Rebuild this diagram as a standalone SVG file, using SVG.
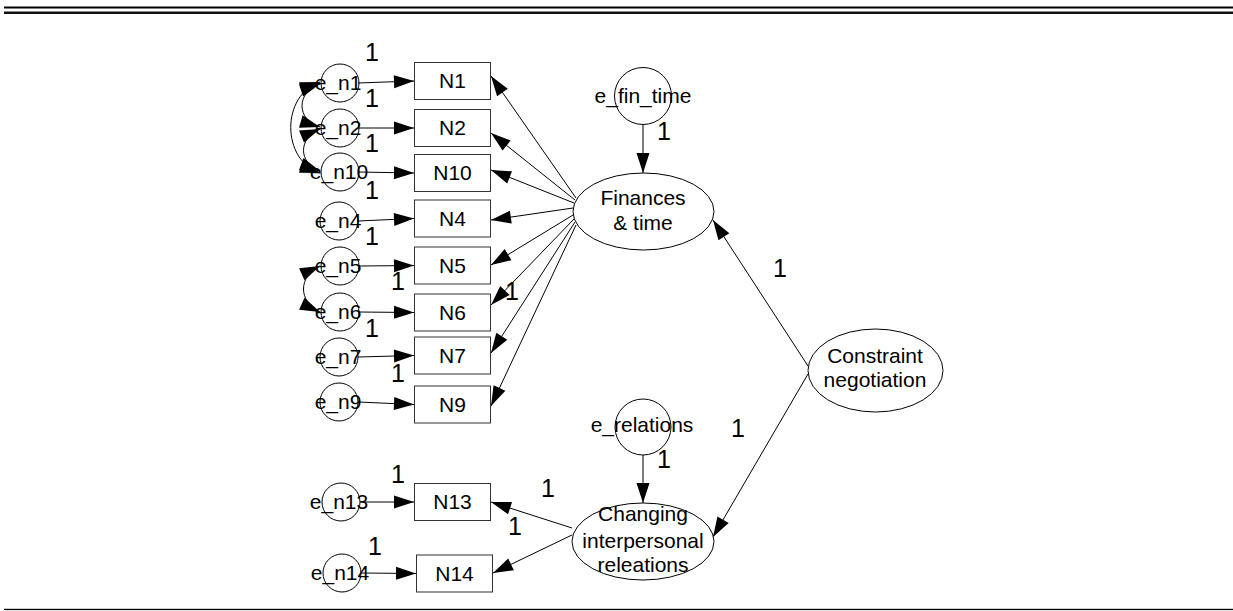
<svg xmlns="http://www.w3.org/2000/svg" width="1233" height="611" viewBox="0 0 1233 611">
<defs>
<style>
text{font-family:"Liberation Sans",Arial,sans-serif;font-size:21px;fill:#000;text-anchor:middle}
.w{font-size:25px}
.box{fill:#fff;stroke:#333;stroke-width:1}
.circ{fill:none;stroke:#000;stroke-width:1}
.ell{fill:#fff;stroke:#000;stroke-width:1}
.c{fill:none;stroke:#000;stroke-width:1;marker-end:url(#ah)}
.cv{fill:none;stroke:#000;stroke-width:1;marker-end:url(#ah);marker-start:url(#ahs)}
</style>
<marker id="ah" markerUnits="userSpaceOnUse" markerWidth="22" markerHeight="15" refX="20" refY="6.5" orient="auto" overflow="visible">
<path d="M0,0 L20,6.5 L0,13 z" fill="#000"/>
</marker>
<marker id="ahs" markerUnits="userSpaceOnUse" markerWidth="22" markerHeight="15" refX="20" refY="6.5" orient="auto-start-reverse" overflow="visible">
<path d="M0,0 L20,6.5 L0,13 z" fill="#000"/>
</marker>
</defs>
<rect width="1233" height="611" fill="#fff"/>
<g id="rules">
<rect x="4" y="6.5" width="1229" height="2" fill="#000"/>
<rect x="4" y="11.5" width="1229" height="2.5" fill="#111"/>
<rect x="4" y="608.8" width="1229" height="1.3" fill="#000"/>
</g>
<g id="connectors">
<path class="c" d="M358,83 L414,81"/>
<path class="c" d="M358,128 L414,128"/>
<path class="c" d="M358,172 L414,173"/>
<path class="c" d="M358,221 L414,218.5"/>
<path class="c" d="M359,266 L414,265.5"/>
<path class="c" d="M359,312 L414,312.5"/>
<path class="c" d="M358,357 L414,355.5"/>
<path class="c" d="M358,402 L414,404.5"/>
<path class="c" d="M360,502 L414,502"/>
<path class="c" d="M361,573 L416,573.5"/>
<path class="c" d="M576,198 L491,76"/>
<path class="c" d="M575,200 L491,133"/>
<path class="c" d="M574,203 L491,170"/>
<path class="c" d="M573,208 L491,220"/>
<path class="c" d="M573,215 L491,265"/>
<path class="c" d="M574,219 L491,305"/>
<path class="c" d="M575,222 L491,353"/>
<path class="c" d="M576,225 L491,406"/>
<path class="c" d="M572,528 L491,502"/>
<path class="c" d="M572,535 L493,573"/>
<path class="c" d="M643,125 L643,173"/>
<path class="c" d="M643,455 L643,503"/>
<path class="c" d="M808,366 L713,220"/>
<path class="c" d="M808,374 L713,537"/>
<path class="cv" d="M320,84 C296,92 296,120 320,127"/>
<path class="cv" d="M320,129 C298,138 298,163 320,171"/>
<path class="cv" d="M320,82 C281,95 281,160 320,173"/>
<path class="cv" d="M320,266 C298,276 298,302 320,312"/>
</g>
<g id="weights">
<text class="w" x="372" y="61">1</text>
<text class="w" x="372" y="107">1</text>
<text class="w" x="372" y="152">1</text>
<text class="w" x="372" y="199">1</text>
<text class="w" x="372" y="245">1</text>
<text class="w" x="398" y="290">1</text>
<text class="w" x="372" y="337">1</text>
<text class="w" x="398" y="382">1</text>
<text class="w" x="512" y="300">1</text>
<text class="w" x="664" y="140">1</text>
<text class="w" x="780" y="277">1</text>
<text class="w" x="738" y="437">1</text>
<text class="w" x="664" y="468">1</text>
<text class="w" x="398" y="483">1</text>
<text class="w" x="548" y="497">1</text>
<text class="w" x="515" y="535">1</text>
<text class="w" x="375" y="555">1</text>
</g>
<g id="N1"><rect class="box" x="414.5" y="62.5" width="76" height="37"/><text x="452.5" y="88">N1</text></g>
<g id="N2"><rect class="box" x="414.5" y="109.5" width="76" height="37"/><text x="452.5" y="135">N2</text></g>
<g id="N10"><rect class="box" x="414.5" y="154.5" width="76" height="37"/><text x="452.5" y="180">N10</text></g>
<g id="N4"><rect class="box" x="414.5" y="200" width="76" height="37"/><text x="452.5" y="226">N4</text></g>
<g id="N5"><rect class="box" x="414.5" y="247" width="76" height="37"/><text x="452.5" y="273">N5</text></g>
<g id="N6"><rect class="box" x="414.5" y="294" width="76" height="37"/><text x="452.5" y="320">N6</text></g>
<g id="N7"><rect class="box" x="414.5" y="337" width="76" height="37"/><text x="452.5" y="363">N7</text></g>
<g id="N9"><rect class="box" x="414.5" y="386" width="76" height="37"/><text x="452.5" y="412">N9</text></g>
<g id="N13"><rect class="box" x="414.5" y="483.5" width="76" height="37"/><text x="452.5" y="509">N13</text></g>
<g id="N14"><rect class="box" x="416.5" y="555" width="76" height="37"/><text x="454.5" y="581">N14</text></g>
<g id="e_n1"><circle class="circ" cx="340" cy="83" r="19"/><text x="338" y="90">e_n1</text></g>
<g id="e_n2"><circle class="circ" cx="340" cy="128" r="19"/><text x="338" y="135">e_n2</text></g>
<g id="e_n10"><circle class="circ" cx="340" cy="172" r="19"/><text x="339" y="179">e_n10</text></g>
<g id="e_n4"><circle class="circ" cx="339" cy="221" r="19"/><text x="338" y="228">e_n4</text></g>
<g id="e_n5"><circle class="circ" cx="340" cy="266" r="19"/><text x="338" y="273">e_n5</text></g>
<g id="e_n6"><circle class="circ" cx="340" cy="312" r="19"/><text x="338" y="319">e_n6</text></g>
<g id="e_n7"><circle class="circ" cx="339" cy="357" r="19"/><text x="338" y="364">e_n7</text></g>
<g id="e_n9"><circle class="circ" cx="339" cy="402" r="19"/><text x="338" y="409">e_n9</text></g>
<g id="e_n13"><circle class="circ" cx="341" cy="502" r="19"/><text x="339" y="509">e_n13</text></g>
<g id="e_n14"><circle class="circ" cx="342" cy="573" r="19"/><text x="340" y="580">e_n14</text></g>
<g id="e_fin_time"><circle class="circ" cx="643" cy="96" r="28.5"/><text x="643" y="103">e_fin_time</text></g>
<g id="e_relations"><circle class="circ" cx="643" cy="427" r="28"/><text x="642" y="432">e_relations</text></g>
<g id="finances"><ellipse class="ell" cx="643.5" cy="211.5" rx="70.5" ry="38.5"/><text x="643" y="205">Finances</text><text x="643" y="230">&amp; time</text></g>
<g id="constraint"><ellipse class="ell" cx="875.5" cy="370.5" rx="67.5" ry="41.5"/><text x="875" y="363">Constraint</text><text x="875" y="387">negotiation</text></g>
<g id="changing"><ellipse class="ell" cx="643" cy="541.5" rx="71" ry="38.5"/><text x="643" y="521">Changing</text><text x="643" y="548">interpersonal</text><text x="643" y="572">releations</text></g>
</svg>
